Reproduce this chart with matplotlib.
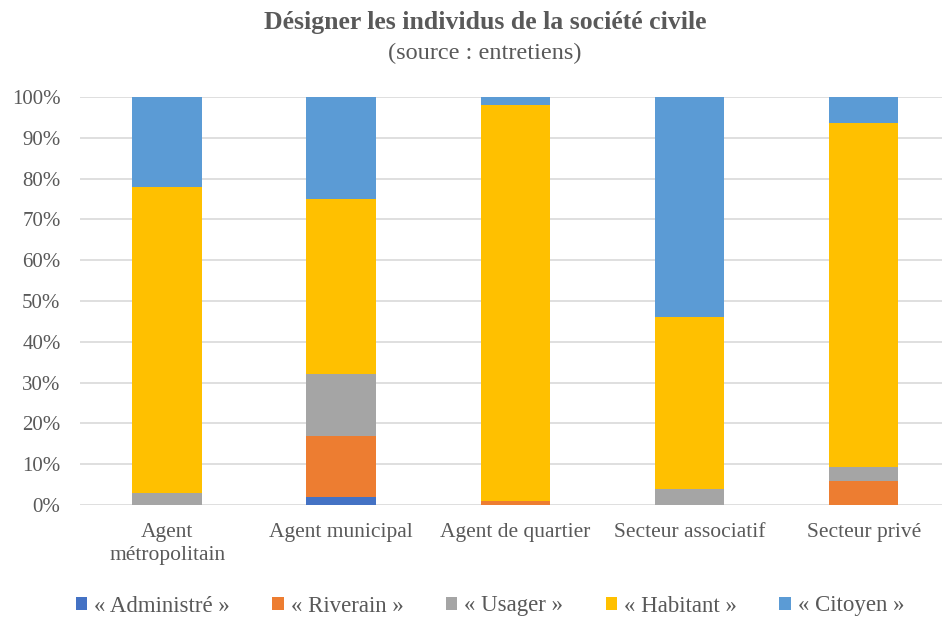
import matplotlib
matplotlib.use("Agg")
import matplotlib.pyplot as plt
import numpy as np
from matplotlib.ticker import PercentFormatter

categories = ["Agent\nmétropolitain", "Agent municipal", "Agent de quartier", "Secteur associatif", "Secteur privé"]
series_names = ["« Administré »", "« Riverain »", "« Usager »", "« Habitant »", "« Citoyen »"]
administre = [0, 2, 0, 0, 0]
riverain = [0, 15, 1, 0, 6]
usager = [3, 15, 0, 4, 3.3]
habitant = [75, 43, 97, 42, 84.4]
citoyen = [22, 25, 2, 54, 6.3]
colors = ["#4472C4", "#ED7D31", "#A5A5A5", "#FFC000", "#5B9BD5"]

plt.rcParams['font.family'] = ['Liberation Serif', 'DejaVu Serif']
fig = plt.figure(figsize=(9.42, 6.18), dpi=100)
ax = fig.add_axes([80/942, (618-505)/618, 862/942, 408/618])

data = [administre, riverain, usager, habitant, citoyen]
x = np.arange(len(categories))
bottom = np.zeros(len(categories))
handles = []
for name, vals, c in zip(series_names, data, colors):
    v = np.array(vals, dtype=float)
    h = ax.bar(x, v, 0.4, bottom=bottom, color=c, label=name, zorder=3)
    handles.append(h)
    bottom += v

ax.set_ylim(0, 100)
ax.set_xlim(-0.5, 4.45)
ax.set_yticks(np.arange(0, 101, 10))
ax.yaxis.set_major_formatter(PercentFormatter(decimals=0))
ax.grid(axis='y', color='#D9D9D9', linewidth=1.2, zorder=0)
for s in ax.spines.values():
    s.set_visible(False)
ax.tick_params(axis='x', length=0, labelsize=15.5, colors='#595959', pad=13)
ax.tick_params(axis='y', length=0, labelsize=15, colors='#595959', pad=14)
ax.set_xticks(x)
ax.set_xticklabels(categories, linespacing=1.25)

fig.text(485/942, 1-22/618, "Désigner les individus de la société civile", ha='center', va='center',
         fontsize=18.5, fontweight='bold', color='#595959')
fig.text(485/942, 1-53/618, "(source : entretiens)", ha='center', va='center', fontsize=17.5, color='#595959')

leg = fig.legend(handles=handles, loc='center', bbox_to_anchor=(490/942, 1-606/618), ncol=5, frameon=False,
                 fontsize=16.5, handlelength=0.5, handleheight=0.5, handletextpad=0.3, columnspacing=1.85,
                 labelcolor='#595959')
fig.savefig("out.png", dpi=100)
